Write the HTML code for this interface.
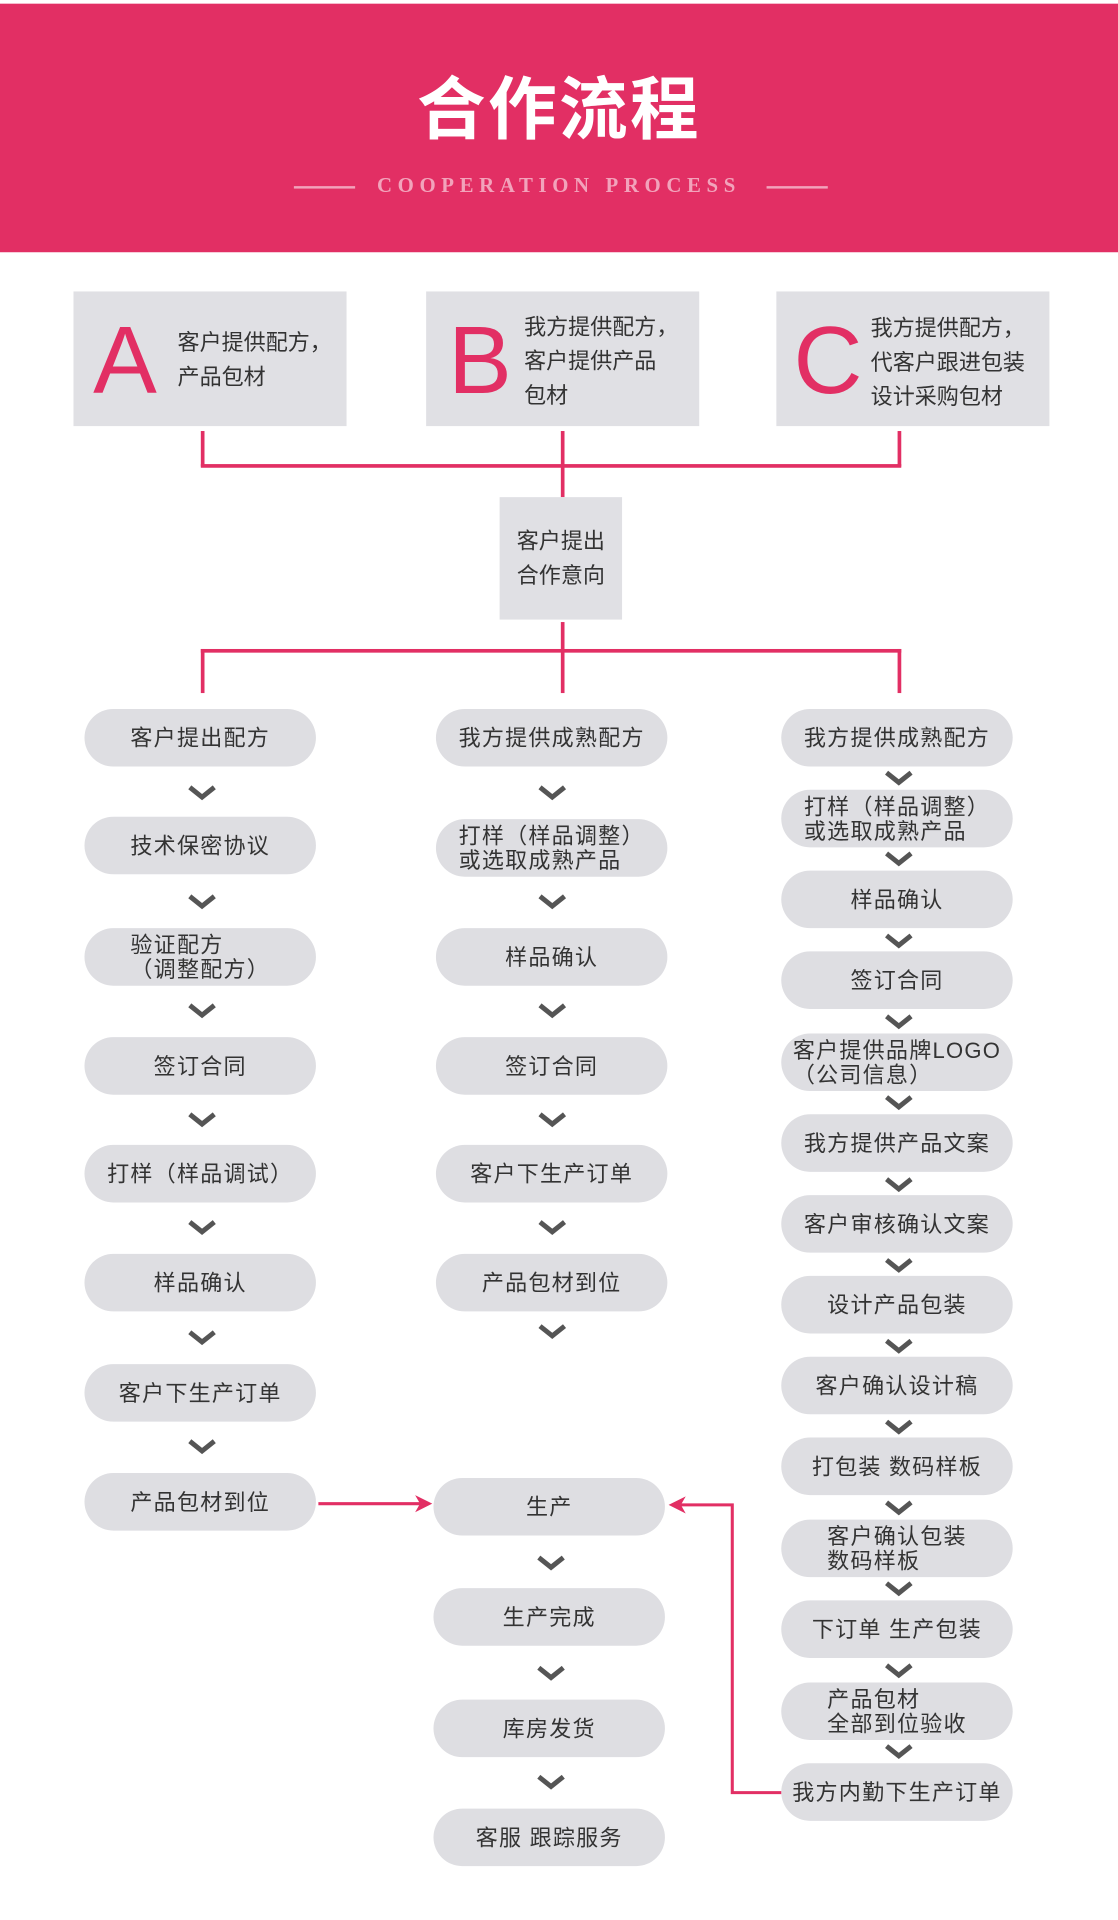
<!DOCTYPE html>
<html><head><meta charset="utf-8"><style>
html,body{margin:0;padding:0;background:#fff;width:1118px;height:1920px;overflow:hidden}
#c{position:absolute;left:0;top:0;width:913px;height:1568px;transform:scale(1.22454,1.22449);transform-origin:0 0;font-family:"Liberation Sans","Noto Sans CJK SC",sans-serif}
.a{position:absolute}
.hdr{left:0;top:3px;width:913px;height:203px;background:#e22f64}
.t{left:0;width:913px;top:55px;text-align:center;color:#fff;font-size:56px;font-weight:bold;letter-spacing:2px;line-height:70px}
.sub{left:0;width:913px;top:141px;text-align:center;color:#f2a3bb;font-family:"Liberation Serif",serif;font-size:17px;font-weight:bold;letter-spacing:4.6px;line-height:22px}
.hl{height:2px;background:#f2a3bb;top:152px;width:50px}
.box{background:#e0e0e4;width:223px;height:110px;top:238px}
.L{color:#e22f64;font-size:78px;line-height:80px;top:254px}
.bt{font-size:18px;color:#333;line-height:28px}
.p{background:#dedee2;border-radius:24px;width:189px;height:47px;display:flex;align-items:center;justify-content:center;text-align:left;font-size:18px;color:#333;line-height:20px;letter-spacing:1px}
.v{width:2.5px;background:#e22f64}
.h{height:2.5px;background:#e22f64}
</style></head><body><div id="c">
<div class="a hdr"></div>
<div class="a t">合作流程</div>
<div class="a hl" style="left:240px"></div>
<div class="a hl" style="left:626px"></div>
<div class="a sub">COOPERATION PROCESS</div>

<div class="a box" style="left:60px"></div>
<div class="a box" style="left:348px"></div>
<div class="a box" style="left:634px"></div>
<div class="a L" style="left:76px">A</div>
<div class="a L" style="left:366px">B</div>
<div class="a L" style="left:648px">C</div>
<div class="a bt" style="left:145px;top:266px">客户提供配方，<br>产品包材</div>
<div class="a bt" style="left:428px;top:253px">我方提供配方，<br>客户提供产品<br>包材</div>
<div class="a bt" style="left:711px;top:254px">我方提供配方，<br>代客户跟进包装<br>设计采购包材</div>

<div class="a v" style="left:164px;top:352px;height:29px"></div>
<div class="a v" style="left:458px;top:352px;height:54px"></div>
<div class="a v" style="left:733px;top:352px;height:29px"></div>
<div class="a h" style="left:164px;top:379px;width:572px"></div>
<div class="a" style="left:408px;top:406px;width:100px;height:100px;background:#e0e0e4"></div>
<div class="a bt" style="left:408px;top:428px;width:100px;text-align:center">客户提出<br>合作意向</div>
<div class="a v" style="left:458px;top:508px;height:23px"></div>
<div class="a h" style="left:164px;top:530px;width:572px"></div>
<div class="a v" style="left:164px;top:530px;height:36px"></div>
<div class="a v" style="left:458px;top:530px;height:36px"></div>
<div class="a v" style="left:733px;top:530px;height:36px"></div>

<div class="a p" style="left:69px;top:579px">客户提出配方</div>
<div class="a p" style="left:69px;top:667px">技术保密协议</div>
<div class="a p" style="left:69px;top:758px">验证配方<br>（调整配方）</div>
<div class="a p" style="left:69px;top:847px">签订合同</div>
<div class="a p" style="left:69px;top:935px">打样（样品调试）</div>
<div class="a p" style="left:69px;top:1024px">样品确认</div>
<div class="a p" style="left:69px;top:1114px">客户下生产订单</div>
<div class="a p" style="left:69px;top:1203px">产品包材到位</div>

<div class="a p" style="left:356px;top:579px">我方提供成熟配方</div>
<div class="a p" style="left:356px;top:669px">打样（样品调整）<br>或选取成熟产品</div>
<div class="a p" style="left:356px;top:758px">样品确认</div>
<div class="a p" style="left:356px;top:847px">签订合同</div>
<div class="a p" style="left:356px;top:935px">客户下生产订单</div>
<div class="a p" style="left:356px;top:1024px">产品包材到位</div>
<div class="a p" style="left:354px;top:1207px">生产</div>
<div class="a p" style="left:354px;top:1297px">生产完成</div>
<div class="a p" style="left:354px;top:1388px">库房发货</div>
<div class="a p" style="left:354px;top:1477px">客服 跟踪服务</div>

<div class="a p" style="left:638px;top:579px">我方提供成熟配方</div>
<div class="a p" style="left:638px;top:645px">打样（样品调整）<br>或选取成熟产品</div>
<div class="a p" style="left:638px;top:711px">样品确认</div>
<div class="a p" style="left:638px;top:777px">签订合同</div>
<div class="a p" style="left:638px;top:844px">客户提供品牌LOGO<br>（公司信息）</div>
<div class="a p" style="left:638px;top:910px">我方提供产品文案</div>
<div class="a p" style="left:638px;top:976px">客户审核确认文案</div>
<div class="a p" style="left:638px;top:1042px">设计产品包装</div>
<div class="a p" style="left:638px;top:1108px">客户确认设计稿</div>
<div class="a p" style="left:638px;top:1174px">打包装 数码样板</div>
<div class="a p" style="left:638px;top:1241px">客户确认包装<br>数码样板</div>
<div class="a p" style="left:638px;top:1307px">下订单 生产包装</div>
<div class="a p" style="left:638px;top:1374px">产品包材<br>全部到位验收</div>
<div class="a p" style="left:638px;top:1440px">我方内勤下生产订单</div>

<svg class="a" style="left:0;top:0" width="913" height="1568">
<g fill="none" stroke="#555" stroke-width="4">
<polyline points="155,643 165,651 175,643"/>
<polyline points="155,732 165,740 175,732"/>
<polyline points="155,821 165,829 175,821"/>
<polyline points="155,910 165,918 175,910"/>
<polyline points="155,998 165,1006 175,998"/>
<polyline points="155,1088 165,1096 175,1088"/>
<polyline points="155,1177 165,1185 175,1177"/>
<polyline points="441,643 451,651 461,643"/>
<polyline points="441,732 451,740 461,732"/>
<polyline points="441,821 451,829 461,821"/>
<polyline points="441,910 451,918 461,910"/>
<polyline points="441,998 451,1006 461,998"/>
<polyline points="441,1083 451,1091 461,1083"/>
<polyline points="440,1272 450,1280 460,1272"/>
<polyline points="440,1362 450,1370 460,1362"/>
<polyline points="440,1451 450,1459 460,1451"/>
<polyline points="724,631 734,639 744,631"/>
<polyline points="724,697 734,705 744,697"/>
<polyline points="724,764 734,772 744,764"/>
<polyline points="724,830 734,838 744,830"/>
<polyline points="724,896 734,904 744,896"/>
<polyline points="724,963 734,971 744,963"/>
<polyline points="724,1029 734,1037 744,1029"/>
<polyline points="724,1095 734,1103 744,1095"/>
<polyline points="724,1161 734,1169 744,1161"/>
<polyline points="724,1227 734,1235 744,1227"/>
<polyline points="724,1293 734,1301 744,1293"/>
<polyline points="724,1360 734,1368 744,1360"/>
<polyline points="724,1426 734,1434 744,1426"/>
</g>
<g stroke="#e22f64" stroke-width="2.5" fill="none">
<line x1="260" y1="1228" x2="345" y2="1228"/>
<polyline points="638,1464 598,1464 598,1229 556,1229"/>
</g>
<polygon points="353,1228 339,1221 343,1228 339,1235" fill="#e22f64"/>
<polygon points="546,1229 560,1222 556,1229 560,1236" fill="#e22f64"/>
</svg>
</div></body></html>
